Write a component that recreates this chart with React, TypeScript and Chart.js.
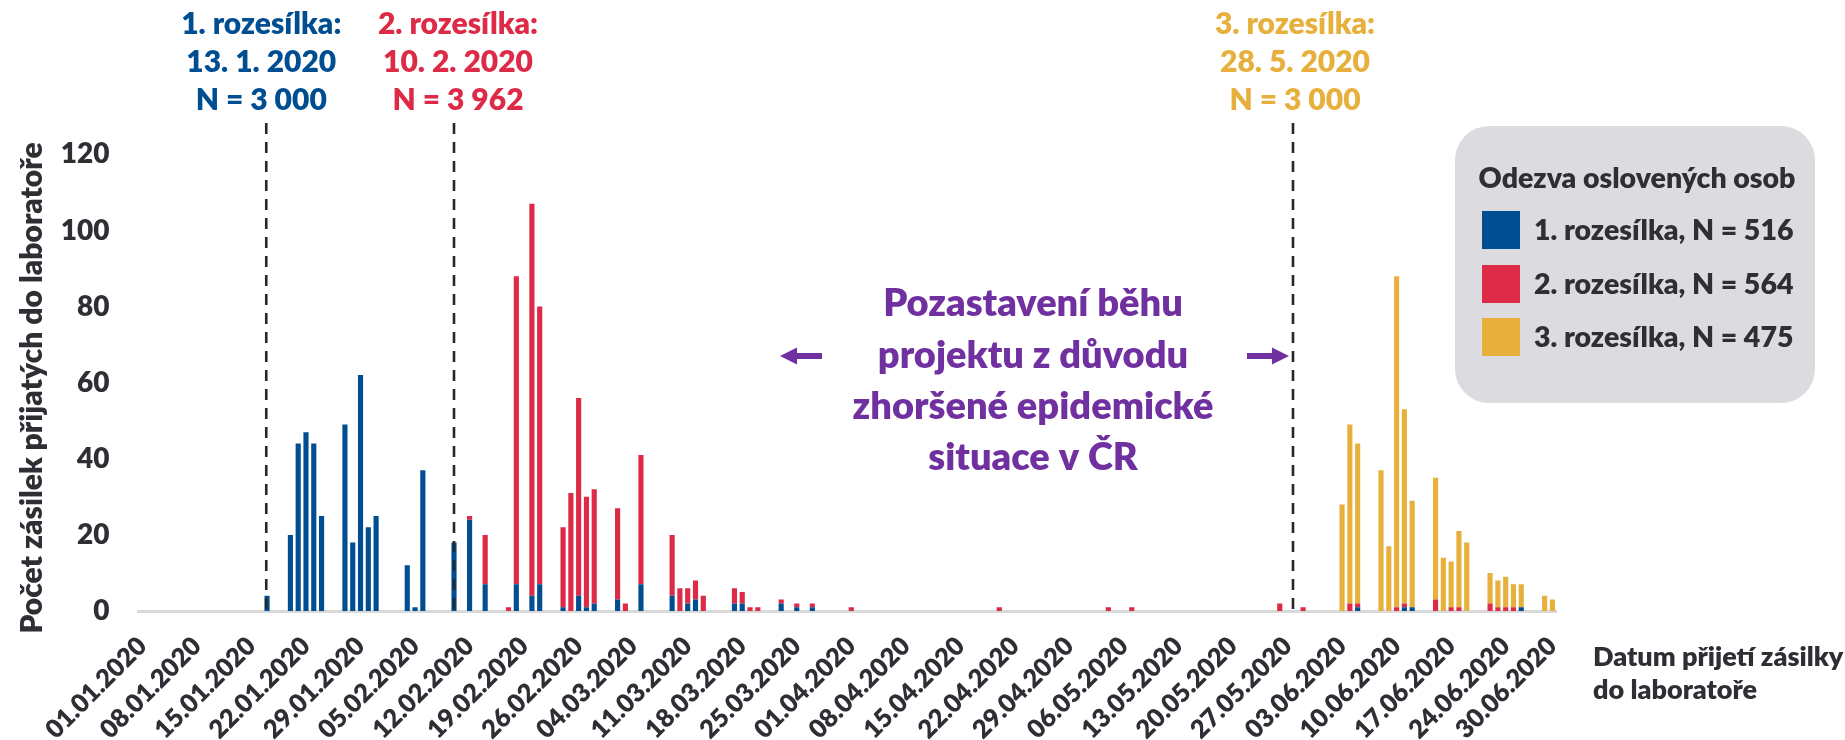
import React, { useEffect, useRef } from 'react';
import { Chart, registerables } from 'chart.js';

Chart.register(...registerables);

// ---------- DATA ----------
function buildCategories(): string[] {
  const out: string[] = [];
  const d = new Date(Date.UTC(2020, 0, 1));
  const end = new Date(Date.UTC(2020, 5, 30));
  while (d <= end) {
    const dd = String(d.getUTCDate()).padStart(2, '0');
    const mm = String(d.getUTCMonth() + 1).padStart(2, '0');
    out.push(`${dd}.${mm}.${d.getUTCFullYear()}`);
    d.setUTCDate(d.getUTCDate() + 1);
  }
  return out;
}
const categories = buildCategories();

const tickLabels = [
  '01.01.2020', '08.01.2020', '15.01.2020', '22.01.2020', '29.01.2020', '05.02.2020',
  '12.02.2020', '19.02.2020', '26.02.2020', '04.03.2020', '11.03.2020', '18.03.2020',
  '25.03.2020', '01.04.2020', '08.04.2020', '15.04.2020', '22.04.2020', '29.04.2020',
  '06.05.2020', '13.05.2020', '20.05.2020', '27.05.2020', '03.06.2020', '10.06.2020',
  '17.06.2020', '24.06.2020', '30.06.2020',
];

const seriesNames = ['1. rozesílka, N = 516', '2. rozesílka, N = 564', '3. rozesílka, N = 475'];

const series1Dates = [
  '17.01.2020', '20.01.2020', '21.01.2020', '22.01.2020', '23.01.2020', '24.01.2020',
  '27.01.2020', '28.01.2020', '29.01.2020', '30.01.2020', '31.01.2020',
  '04.02.2020', '05.02.2020', '06.02.2020', '10.02.2020', '12.02.2020', '14.02.2020',
  '18.02.2020', '20.02.2020', '21.02.2020', '24.02.2020', '26.02.2020', '27.02.2020',
  '28.02.2020', '02.03.2020', '05.03.2020', '09.03.2020', '11.03.2020', '12.03.2020',
  '17.03.2020', '18.03.2020', '23.03.2020', '25.03.2020', '27.03.2020',
  '05.06.2020', '11.06.2020', '12.06.2020', '26.06.2020',
];
const series1Values = [
  4, 20, 44, 47, 44, 25,
  49, 18, 62, 22, 25,
  12, 1, 37, 18, 24, 7,
  7, 4, 7, 1, 4, 1,
  2, 3, 7, 4, 2, 3,
  2, 2, 2, 1, 1,
  1, 1, 1, 1,
];

const series2Dates = [
  '12.02.2020', '14.02.2020', '17.02.2020', '18.02.2020', '20.02.2020', '21.02.2020',
  '24.02.2020', '25.02.2020', '26.02.2020', '27.02.2020', '28.02.2020',
  '02.03.2020', '03.03.2020', '05.03.2020', '09.03.2020', '10.03.2020', '11.03.2020',
  '12.03.2020', '13.03.2020', '17.03.2020', '18.03.2020', '19.03.2020', '20.03.2020',
  '23.03.2020', '25.03.2020', '27.03.2020', '01.04.2020', '20.04.2020', '04.05.2020',
  '07.05.2020', '26.05.2020', '29.05.2020', '04.06.2020', '05.06.2020', '10.06.2020',
  '11.06.2020', '15.06.2020', '17.06.2020', '18.06.2020', '22.06.2020', '23.06.2020',
  '24.06.2020', '25.06.2020',
];
const series2Values = [
  1, 13, 1, 81, 103, 73,
  21, 31, 52, 29, 30,
  24, 2, 34, 16, 6, 4,
  5, 4, 4, 3, 1, 1,
  1, 1, 1, 1, 1, 1,
  1, 2, 1, 2, 1, 1,
  1, 3, 1, 1, 2, 1,
  1, 1,
];

const series3Dates = [
  '03.06.2020', '04.06.2020', '05.06.2020', '08.06.2020', '09.06.2020', '10.06.2020',
  '11.06.2020', '12.06.2020', '15.06.2020', '16.06.2020', '17.06.2020', '18.06.2020',
  '19.06.2020', '22.06.2020', '23.06.2020', '24.06.2020', '25.06.2020', '26.06.2020',
  '29.06.2020', '30.06.2020',
];
const series3Values = [
  28, 47, 42, 37, 17, 87,
  51, 28, 32, 14, 12, 20,
  18, 8, 7, 8, 6, 6,
  4, 3,
];

const mailingDates = ['17.01.2020', '10.02.2020', '28.05.2020'];
const mailingTexts = [
  ['1. rozesílka:', '13. 1. 2020', 'N = 3 000'],
  ['2. rozesílka:', '10. 2. 2020', 'N = 3 962'],
  ['3. rozesílka:', '28. 5. 2020', 'N = 3 000'],
];
const pauseText = ['Pozastavení běhu', 'projektu z důvodu', 'zhoršené epidemické', 'situace v ČR'];
const legendTitle = 'Odezva oslovených osob';
const yTitle = 'Počet zásilek přijatých do laboratoře';
const xTitle = ['Datum přijetí zásilky', 'do laboratoře'];

// ---------- STYLE ----------
const FONT = 'Lato, "Open Sans", sans-serif';
const W = '800';
const TEXT_DARK = '#2e2e34';
const colors = ['#004e92', '#dc2a47', '#e7b03c'];
const PURPLE = '#7030a0';

function buildSeries(dates: string[], values: number[]): (number | null)[] {
  const map = new Map<string, number>();
  dates.forEach((d, i) => map.set(d, values[i]));
  return categories.map((c) => (map.has(c) ? (map.get(c) as number) : null));
}

function roundRectPath(ctx: CanvasRenderingContext2D, x: number, y: number, w: number, h: number, r: number) {
  ctx.beginPath();
  ctx.moveTo(x + r, y);
  ctx.arcTo(x + w, y, x + w, y + h, r);
  ctx.arcTo(x + w, y + h, x, y + h, r);
  ctx.arcTo(x, y + h, x, y, r);
  ctx.arcTo(x, y, x + w, y, r);
  ctx.closePath();
}

const overlayPlugin = {
  id: 'overlay',
  afterDraw(chart: any) {
    const { ctx, scales } = chart;
    const x = scales.x;
    const y = scales.y;
    const zeroY = y.getPixelForValue(0);
    ctx.save();

    // dashed mailing lines + labels
    const offsets = [-0.1, 0, -0.3];
    const textShift = [-5, 4, 2];
    mailingDates.forEach((d, i) => {
      const px = x.getPixelForValue(categories.indexOf(d) + offsets[i]);
      ctx.setLineDash([11, 8]);
      ctx.lineWidth = 2.6;
      ctx.strokeStyle = '#26262b';
      ctx.beginPath();
      ctx.moveTo(px, 123);
      ctx.lineTo(px, zeroY - 2);
      ctx.stroke();
      ctx.setLineDash([]);
      ctx.font = `${W} 30px ${FONT}`;
      ctx.fillStyle = colors[i];
      ctx.textAlign = 'center';
      ctx.textBaseline = 'alphabetic';
      const baselines = [34, 72, 110];
      mailingTexts[i].forEach((t, j) => ctx.fillText(t, px + textShift[i], baselines[j]));
    });

    // pause text
    ctx.font = `${W} 38px ${FONT}`;
    ctx.fillStyle = PURPLE;
    ctx.textAlign = 'center';
    const pcx = 1033;
    const pBase = [316, 368, 419, 470];
    pauseText.forEach((t, j) => ctx.fillText(t, pcx, pBase[j]));

    // arrows
    const ay = 356;
    ctx.fillStyle = PURPLE;
    ctx.fillRect(795, ay - 3, 27, 6);
    ctx.beginPath();
    ctx.moveTo(780, ay);
    ctx.lineTo(797, ay - 8.5);
    ctx.lineTo(797, ay + 8.5);
    ctx.closePath();
    ctx.fill();
    ctx.fillRect(1247, ay - 3, 26, 6);
    ctx.beginPath();
    ctx.moveTo(1289, ay);
    ctx.lineTo(1272, ay - 8.5);
    ctx.lineTo(1272, ay + 8.5);
    ctx.closePath();
    ctx.fill();

    // legend box
    roundRectPath(ctx, 1455, 126, 360, 277, 34);
    ctx.fillStyle = '#dcdce0';
    ctx.fill();
    ctx.fillStyle = TEXT_DARK;
    ctx.font = `${W} 28.5px ${FONT}`;
    ctx.textAlign = 'center';
    ctx.fillText(legendTitle, 1637, 188);
    const swY = [211, 265, 318];
    const txY = [240, 294, 347];
    seriesNames.forEach((n, i) => {
      ctx.fillStyle = colors[i];
      ctx.fillRect(1482, swY[i], 38, 38);
      ctx.fillStyle = TEXT_DARK;
      ctx.textAlign = 'left';
      ctx.fillText(n, 1534, txY[i]);
    });

    // x axis title
    ctx.font = `${W} 27px ${FONT}`;
    ctx.textAlign = 'left';
    ctx.fillStyle = TEXT_DARK;
    ctx.fillText(xTitle[0], 1593, 666);
    ctx.fillText(xTitle[1], 1593, 699);

    // y axis title
    ctx.save();
    ctx.translate(42, 388);
    ctx.rotate(-Math.PI / 2);
    ctx.textAlign = 'center';
    ctx.font = `${W} 30px ${FONT}`;
    ctx.fillText(yTitle, 0, 0);
    ctx.restore();

    ctx.restore();
  },
};

export default function App() {
  const ref = useRef<HTMLCanvasElement>(null);
  useEffect(() => {
    document.body.style.margin = '0';
    const canvas = ref.current as HTMLCanvasElement;
    const chart = new Chart(canvas, {
      type: 'bar',
      data: {
        labels: categories,
        datasets: [
          { label: seriesNames[0], data: buildSeries(series1Dates, series1Values), backgroundColor: colors[0] },
          { label: seriesNames[1], data: buildSeries(series2Dates, series2Values), backgroundColor: colors[1] },
          { label: seriesNames[2], data: buildSeries(series3Dates, series3Values), backgroundColor: colors[2] },
        ],
      },
      options: {
        responsive: false,
        animation: false,
        devicePixelRatio: 1,
        layout: { padding: { top: 154.4, right: 288.7, bottom: 0, left: 0 } },
        datasets: { bar: { categoryPercentage: 1, barPercentage: 0.66, borderWidth: 0 } },
        plugins: { legend: { display: false }, tooltip: { enabled: false } },
        scales: {
          x: {
            stacked: true,
            offset: true,
            grid: { display: false, drawTicks: false },
            border: { display: true, color: '#d9d9d9', width: 3 },
            ticks: {
              autoSkip: false,
              minRotation: 45,
              maxRotation: 45,
              padding: 20,
              color: TEXT_DARK,
              font: { family: FONT, size: 25.5, weight: W },
              callback: (_v: any, index: number) => {
                const lab = categories[index];
                return tickLabels.includes(lab) ? lab : '';
              },
            },
            afterFit: (s: any) => {
              s.height = 129;
            },
          },
          y: {
            stacked: true,
            min: 0,
            max: 120,
            grid: { display: false, drawTicks: false },
            border: { display: false },
            ticks: {
              stepSize: 20,
              padding: 29,
              color: TEXT_DARK,
              font: { family: FONT, size: 28, weight: W },
            },
            afterFit: (s: any) => {
              s.width = 138.5;
            },
          },
        },
      } as any,
      plugins: [overlayPlugin],
    });
    return () => chart.destroy();
  }, []);
  return (
    <div style={{ position: 'absolute', left: 0, top: 0, width: 1845, height: 740 }}>
      <canvas ref={ref} width={1845} height={740} style={{ display: 'block', width: 1845, height: 740 }} />
    </div>
  );
}
